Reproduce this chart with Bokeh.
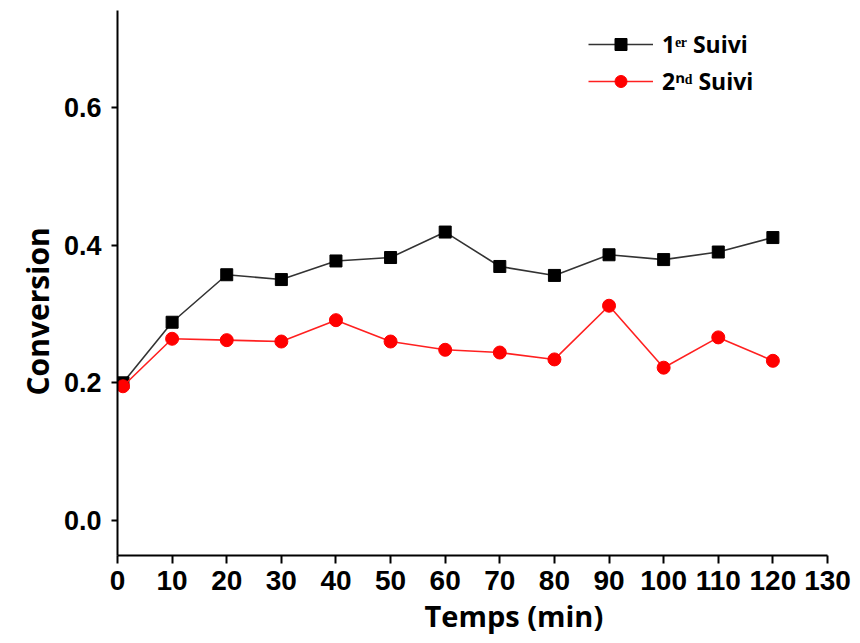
from bokeh.plotting import figure
from bokeh.models import Range1d, FixedTicker, Legend, LegendItem, NumeralTickFormatter, Title
from bokeh.embed import file_html
from bokeh.resources import INLINE

# Data
temps = [1, 10, 20, 30, 40, 50, 60, 70, 80, 90, 100, 110, 120]
suivi1 = [0.200, 0.288, 0.357, 0.350, 0.377, 0.382, 0.419, 0.369, 0.356, 0.386, 0.379, 0.390, 0.411]
suivi2 = [0.195, 0.264, 0.262, 0.260, 0.291, 0.260, 0.248, 0.244, 0.234, 0.312, 0.222, 0.266, 0.232]
x_ticks = [0, 10, 20, 30, 40, 50, 60, 70, 80, 90, 100, 110, 120, 130]
y_ticks = [0.0, 0.2, 0.4, 0.6]
label1 = "1ᵉʳ Suivi"
label2 = "2ⁿᵈ Suivi"
x_title = "Temps (min)"
y_title = "Conversion"

p = figure(width=852, height=635, output_backend="svg", toolbar_location=None,
           x_range=Range1d(0, 130), y_range=Range1d(-0.0508, 0.7408),
           min_border_left=117, min_border_right=25, min_border_top=10, min_border_bottom=80)

p.outline_line_color = None
p.xgrid.visible = False
p.ygrid.visible = False
p.background_fill_color = "white"
p.border_fill_color = "white"

r1l = p.line(temps, suivi1, line_color="#333333", line_width=1.6)
r1m = p.scatter(temps, suivi1, marker="square", size=12, fill_color="black", line_color="black")
r2l = p.line(temps, suivi2, line_color="#ff2020", line_width=1.6)
r2m = p.scatter(temps, suivi2, marker="circle", size=13, fill_color="#ff0000", line_color="#ff0000")

# Axes
p.xaxis.ticker = FixedTicker(ticks=x_ticks)
p.yaxis.ticker = FixedTicker(ticks=y_ticks)
p.yaxis.formatter = NumeralTickFormatter(format="0.0")
for ax in (p.xaxis, p.yaxis):
    ax.axis_line_width = 2
    ax.axis_line_color = "black"
    ax.major_tick_line_width = 2
    ax.major_tick_line_color = "black"
    ax.minor_tick_line_color = None
    ax.major_tick_in = 0
    ax.major_label_text_font = "Liberation Sans"
    ax.major_label_text_font_style = "bold"
    ax.major_label_text_color = "black"

p.xaxis.major_tick_out = 8
p.yaxis.major_tick_out = 6
p.xaxis.major_label_text_font_size = "28px"
p.yaxis.major_label_text_font_size = "27px"
p.xaxis.major_label_standoff = 7
p.yaxis.major_label_standoff = 10

# Axis titles, placed slightly off-centre as in the reference
xt = Title(text=x_title, align="left", offset=307, standoff=2,
           text_font="Open Sans", text_font_style="bold", text_font_size="29px",
           text_color="black")
yt = Title(text=y_title, align="left", offset=160, standoff=2, vertical_align="top",
           text_font="Open Sans", text_font_style="bold", text_font_size="30px",
           text_color="black")
p.add_layout(xt, "below")
p.add_layout(yt, "left")

legend = Legend(items=[LegendItem(label=label1, renderers=[r1l, r1m]),
                       LegendItem(label=label2, renderers=[r2l, r2m])],
                location=(471, 458))
legend.border_line_color = None
legend.background_fill_alpha = 0
legend.glyph_width = 65
legend.glyph_height = 30
legend.label_height = 30
legend.spacing = 5
legend.padding = 0
legend.margin = 0
legend.label_standoff = 9
legend.label_text_font = "Open Sans"
legend.label_text_font_style = "bold"
legend.label_text_font_size = "23px"
legend.label_text_color = "black"
p.add_layout(legend)

open("out.html", "w").write(file_html(p, INLINE))
